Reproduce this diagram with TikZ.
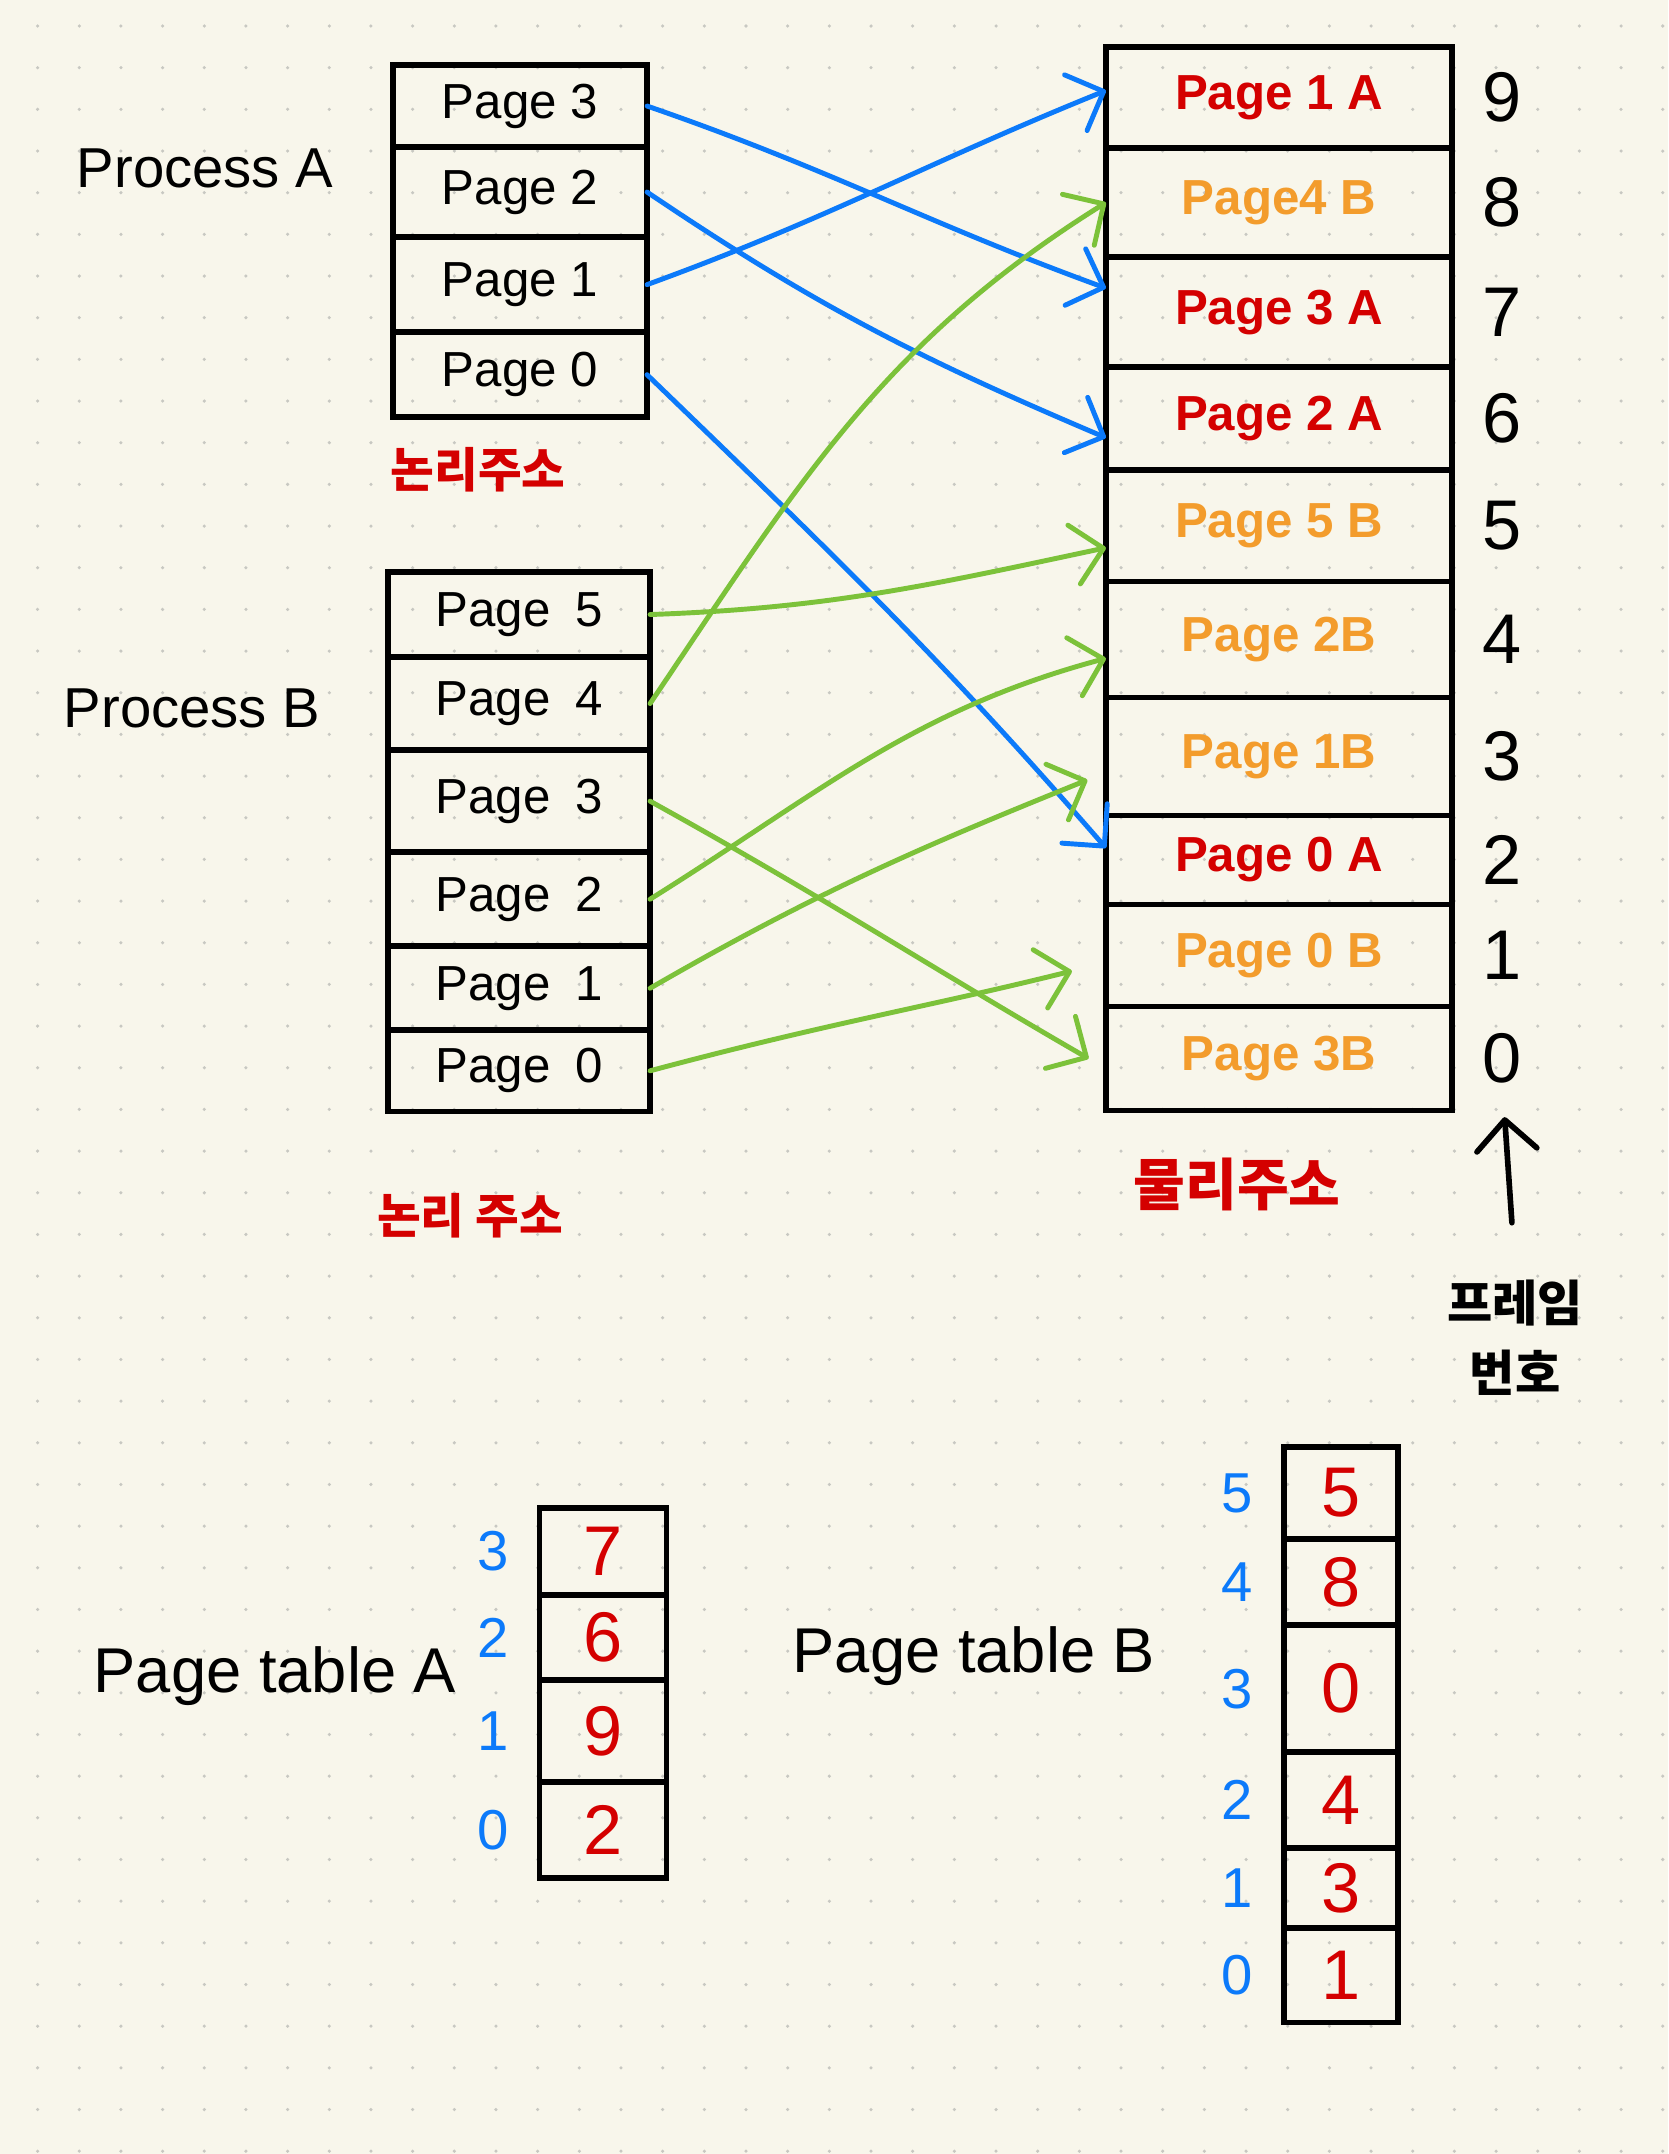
\documentclass[tikz,border=0pt]{standalone}
\usepackage{fontspec}
\setmainfont{Liberation Sans}
\newfontfamily\krfont{Noto Sans CJK KR}
\usepackage{tikz}
\usetikzlibrary{chains,positioning,arrows.meta}

\definecolor{paper}{RGB}{248,246,235}
\definecolor{griddot}{RGB}{200,200,194}
\definecolor{penblue}{RGB}{12,122,250}
\definecolor{pengreen}{RGB}{124,194,58}
\definecolor{penred}{RGB}{212,0,0}
\definecolor{penorange}{RGB}{243,156,44}

\begin{document}
\begin{tikzpicture}[x=0.01cm, y=-0.01cm,
      cell/.style={draw, line width=1.6pt, inner sep=0pt, outer sep=0pt},
      procpage/.style={cell, font=\fontsize{14}{16}\selectfont},
      mempage/.style={cell, minimum width=3.46cm,
            font=\bfseries\fontsize{14}{16}\selectfont},
      ofA/.style={text=penred},
      ofB/.style={text=penorange},
      tabval/.style={cell, text=penred, font=\fontsize{20}{22}\selectfont},
      framenum/.style={inner sep=0pt, font=\fontsize{20}{22}\selectfont},
      idx/.style={inner sep=0pt, text=penblue, font=\fontsize{16}{18}\selectfont},
      heading/.style={font=\fontsize{16}{18}\selectfont},
      tabtitle/.style={font=\fontsize{18}{20}\selectfont},
      kr/.style={text=penred, font=\krfont\bfseries\fontsize{13.5}{16}\selectfont},
      barb/.style={-{Straight Barb[length=3mm,width=6mm,round]}},
      blueline/.style={barb, penblue, line width=1.4pt, line cap=round},
      greenline/.style={barb, pengreen, line width=1.4pt, line cap=round},
      label distance=0.3cm, node distance=0pt
      ]
    \useasboundingbox (0,0) rectangle (1668,2154);
    \fill[paper] (0,0) rectangle (1668,2154);
    % dotted paper
    \foreach \i in {0,...,39}
      \foreach \j in {0,...,51}
        \fill[griddot] ({37.6+41.67*\i},{26+41.67*\j}) circle[radius=0.5pt];

    % process A
    \begin{scope}[start chain=pa going below]
    \node[procpage, minimum width=2.54cm, minimum height=0.82cm, on chain, anchor=north] (a3) at (520,65) {Page 3};
    \node[procpage, minimum width=2.54cm, minimum height=0.90cm, on chain] (a2) {Page 2};
    \node[procpage, minimum width=2.54cm, minimum height=0.95cm, on chain] (a1) {Page 1};
    \node[procpage, minimum width=2.54cm, minimum height=0.85cm, on chain] (a0) {Page 0};
    \end{scope}

    % process B
    \begin{scope}[start chain=pb going below]
    \node[procpage, minimum width=2.62cm, minimum height=0.85cm, on chain, anchor=north] (b5) at (519,572) {Page\enspace 5};
    \node[procpage, minimum width=2.62cm, minimum height=0.93cm, on chain] (b4) {Page\enspace 4};
    \node[procpage, minimum width=2.62cm, minimum height=1.02cm, on chain] (b3) {Page\enspace 3};
    \node[procpage, minimum width=2.62cm, minimum height=0.94cm, on chain] (b2) {Page\enspace 2};
    \node[procpage, minimum width=2.62cm, minimum height=0.84cm, on chain] (b1) {Page\enspace 1};
    \node[procpage, minimum width=2.62cm, minimum height=0.81cm, on chain] (b0) {Page\enspace 0};
    \end{scope}

    % physical memory
    \begin{scope}[start chain=mem going below]
    \node[mempage, ofA, minimum height=1.01cm, on chain, anchor=north, label={[framenum]right:9}] (m9) at (1279,47) {Page 1 A};
    \node[mempage, ofB, minimum height=1.09cm, on chain, label={[framenum]right:8}] (m8) {Page4 B};
    \node[mempage, ofA, minimum height=1.10cm, on chain, label={[framenum]right:7}] (m7) {Page 3 A};
    \node[mempage, ofA, minimum height=1.03cm, on chain, label={[framenum]right:6}] (m6) {Page 2 A};
    \node[mempage, ofB, minimum height=1.11cm, on chain, label={[framenum]right:5}] (m5) {Page 5 B};
    \node[mempage, ofB, minimum height=1.16cm, on chain, label={[framenum]right:4}] (m4) {Page 2B};
    \node[mempage, ofB, minimum height=1.18cm, on chain, label={[framenum]right:3}] (m3) {Page 1B};
    \node[mempage, ofA, minimum height=0.89cm, on chain, label={[framenum]right:2}] (m2) {Page 0 A\hspace{1.1cm}};
    \node[mempage, ofB, minimum height=1.02cm, on chain, label={[framenum]right:1}] (m1) {Page 0 B};
    \node[mempage, ofB, minimum height=1.04cm, on chain, label={[framenum,name=f0]right:0}] (m0) {Page 3B};
    \end{scope}

    \node[heading] (procA) at (205,168) {Process A};
    \node[heading] (procB) at (192,708) {Process B};
    \node[kr] (logA) at (478,470) {논리주소};
    \node[kr] (logB) at (470,1216) {논리 주소};
    \node[kr, font=\krfont\bfseries\fontsize{16}{18}\selectfont] (phys) at (1237,1184) {물리주소};
    \node[align=center, font=\krfont\bfseries\fontsize{14}{20}\selectfont] (framelbl) at (1515,1338) {프레임\\번호};
    \draw[barb, line width=1.6pt, line cap=round, shorten <=0.45cm, shorten >=0.33cm] (framelbl.north) -- (f0.south);

    % process A -> frames
    \draw[blueline] (a3.east) to[out=-19,in=160] ([yshift=0.24cm]m7.west);
    \draw[blueline] (a2.east) to[out=-34,in=157] ([yshift=-0.19cm]m6.west);
    \draw[blueline] (a1.east) to[out=20,in=-158] ([yshift=0.07cm]m9.west);
    \draw[blueline] (a0.east) to[out=-44,in=131] ([yshift=0.12cm]m2.west);

    % process B -> frames
    \draw[greenline] (b5.east) to[out=2,in=-168] ([yshift=-0.22cm]m5.west);
    \draw[greenline] (b4.east) to[out=56,in=-148] (m8.west);
    \draw[greenline, shorten >=0.2cm] (b3.east) to[out=-29,in=150] ([yshift=-0.1cm]m0.west);
    \draw[greenline] (b2.east) to[out=32,in=195] ([yshift=-0.19cm]m4.west);
    \draw[greenline, shorten >=0.2cm] (b1.east) to[out=30,in=-158] ([yshift=-0.16cm]m3.west);
    \draw[greenline, shorten >=0.35cm] (b0.east) to[out=15,in=-166] ([yshift=-0.07cm]m1.west);

    % page table A
    \begin{scope}[start chain=pta going below]
    \node[tabval, minimum width=1.27cm, minimum height=0.87cm, on chain, anchor=north, label={[idx]left:3}] (t3) at (603,1508) {7};
    \node[tabval, minimum width=1.27cm, minimum height=0.85cm, on chain, label={[idx]left:2}] (t2) {6};
    \node[tabval, minimum width=1.27cm, minimum height=1.02cm, on chain, label={[idx]left:1}] (t1) {9};
    \node[tabval, minimum width=1.27cm, minimum height=0.96cm, on chain, label={[idx]left:0}] (t0) {2};
    \end{scope}
    \node[tabtitle] (tabA) at (275,1676) {Page table A};

    % page table B
    \begin{scope}[start chain=ptb going below]
    \node[tabval, minimum width=1.14cm, minimum height=0.92cm, on chain, anchor=north, label={[idx]left:5}] (u5) at (1341,1447) {5};
    \node[tabval, minimum width=1.14cm, minimum height=0.86cm, on chain, label={[idx]left:4}] (u4) {8};
    \node[tabval, minimum width=1.14cm, minimum height=1.27cm, on chain, label={[idx]left:3}] (u3) {0};
    \node[tabval, minimum width=1.14cm, minimum height=0.96cm, on chain, label={[idx]left:2}] (u2) {4};
    \node[tabval, minimum width=1.14cm, minimum height=0.80cm, on chain, label={[idx]left:1}] (u1) {3};
    \node[tabval, minimum width=1.14cm, minimum height=0.94cm, on chain, label={[idx]left:0}] (u0) {1};
    \end{scope}
    \node[tabtitle] (tabB) at (974,1656) {Page table B};
\end{tikzpicture}
\end{document}
